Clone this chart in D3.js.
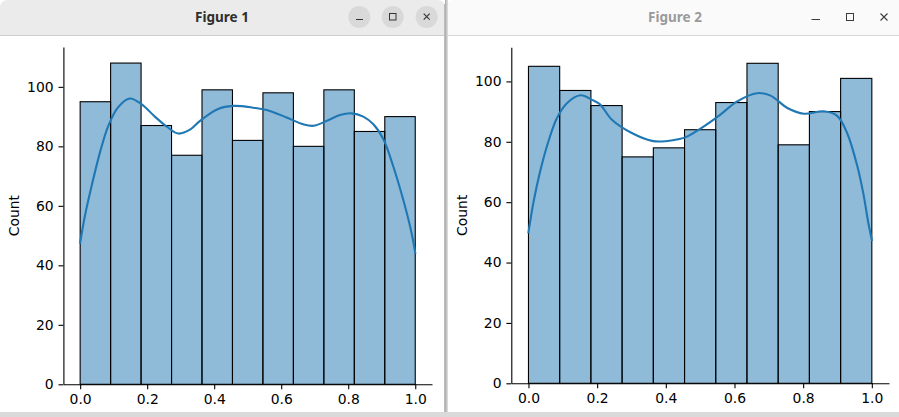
<!DOCTYPE html>
<html>
<head>
<meta charset="utf-8">
<script src="https://cdn.jsdelivr.net/npm/d3@7"></script>
<style>
html,body{margin:0;padding:0;background:#ffffff;overflow:hidden;}
svg{display:block;}
</style>
</head>
<body>
<div id="chart"></div>
<script>
// ---- data ----
const binCount = 11;
const counts1 = [95, 108, 87, 77, 99, 82, 98, 80, 99, 85, 90];
const counts2 = [105, 97, 92, 75, 78, 84, 93, 106, 79, 90, 101];
const xTicks = [0, 0.2, 0.4, 0.6, 0.8, 1.0];
const yTicks = [0, 20, 40, 60, 80, 100];
const kde1X = [0, 0.014, 0.034, 0.059, 0.084, 0.113, 0.148, 0.183, 0.223, 0.26, 0.293, 0.33, 0.357, 0.41, 0.457, 0.516, 0.566, 0.616, 0.666, 0.696, 0.735, 0.775, 0.81, 0.845, 0.875, 0.905, 0.934, 0.964, 0.989, 1.0];
const kde1Y = [47.6, 56.5, 66.6, 77.9, 86.9, 93.1, 96.1, 94.2, 90.0, 86.5, 84.3, 85.8, 88.5, 92.5, 93.6, 93.0, 91.9, 89.7, 87.4, 86.9, 88.5, 90.5, 91.1, 90.0, 87.4, 82.4, 73.4, 62.1, 50.9, 44.2];
const kde2X = [0, 0.015, 0.034, 0.058, 0.083, 0.112, 0.152, 0.185, 0.209, 0.243, 0.301, 0.36, 0.4, 0.44, 0.463, 0.511, 0.559, 0.608, 0.666, 0.705, 0.754, 0.802, 0.86, 0.899, 0.928, 0.958, 0.975, 0.99, 1.0];
const kde2Y = [50.0, 60.2, 70.2, 80.1, 87.9, 92.8, 95.4, 93.9, 92.3, 87.3, 82.9, 80.3, 80.2, 80.9, 81.8, 85.1, 89.0, 93.4, 96.1, 95.3, 91.2, 89.3, 90.1, 88.6, 82.9, 71.8, 63.0, 53.0, 47.5];
const windowTitles = ["Figure 1", "Figure 2"];
const yLabel = "Count";

// ---- canvas ----
const W = 899, H = 417;
const svg = d3.select("#chart").append("svg").attr("width", W).attr("height", H);

// window chrome
svg.append("rect").attr("x",0).attr("y",0).attr("width",W).attr("height",H).attr("fill","#ffffff");
// left window title bar
svg.append("path").attr("d","M0,35 L0,8 Q0,0 8,0 L437,0 Q445,0 445,8 L445,35 Z").attr("fill","#ebebeb");
// right window title bar
svg.append("path").attr("d","M447,35 L447,8 Q447,0 455,0 L899,0 L899,35 Z").attr("fill","#fafafa");
svg.append("line").attr("x1",0).attr("x2",445).attr("y1",35.5).attr("y2",35.5).attr("stroke","#cfcfcf");
svg.append("line").attr("x1",447).attr("x2",899).attr("y1",35.5).attr("y2",35.5).attr("stroke","#d8d8d8");
// border between windows
const grad = svg.append("defs").append("linearGradient").attr("id","shadow").attr("x1","0").attr("x2","1");
grad.append("stop").attr("offset","0").attr("stop-color","#a8a8a8");
grad.append("stop").attr("offset","1").attr("stop-color","#e2e2e2");
svg.append("rect").attr("x",445).attr("y",0).attr("width",3).attr("height",412).attr("fill","url(#shadow)");
svg.append("line").attr("x1",444.5).attr("x2",444.5).attr("y1",4).attr("y2",412).attr("stroke","#bdbdbd").attr("stroke-width",1);
// bottom strip
svg.append("rect").attr("x",0).attr("y",412).attr("width",W).attr("height",5).attr("fill","#dadada");

// titles
svg.append("text").attr("x",222).attr("y",22).attr("text-anchor","middle")
  .attr("font-family","Noto Sans, Open Sans, sans-serif").attr("font-weight","bold").attr("font-size","13.5px")
  .attr("fill","#2e2e2e").text(windowTitles[0]);
svg.append("text").attr("x",675).attr("y",22).attr("text-anchor","middle")
  .attr("font-family","Noto Sans, Open Sans, sans-serif").attr("font-weight","bold").attr("font-size","13.5px")
  .attr("fill","#9a9a9a").text(windowTitles[1]);

// buttons left (active)
[359.3, 392.7, 426.7].forEach(cx => {
  svg.append("circle").attr("cx",cx).attr("cy",17).attr("r",11).attr("fill","#d9d9d9");
});
const ic = "#333333";
svg.append("line").attr("x1",356).attr("x2",363).attr("y1",19.5).attr("y2",19.5).attr("stroke",ic).attr("stroke-width",1);
svg.append("rect").attr("x",389.5).attr("y",13.5).attr("width",6.5).attr("height",6.5).attr("fill","none").attr("stroke",ic).attr("stroke-width",1);
svg.append("path").attr("d","M423.7,13.7 L429.7,19.7 M429.7,13.7 L423.7,19.7").attr("stroke",ic).attr("stroke-width",1.1);
// buttons right (inactive)
const ic2 = "#3c3c3c";
svg.append("line").attr("x1",811.5).attr("x2",820).attr("y1",19.5).attr("y2",19.5).attr("stroke",ic2).attr("stroke-width",1);
svg.append("rect").attr("x",846.5).attr("y",13.5).attr("width",7).attr("height",7).attr("fill","none").attr("stroke",ic2).attr("stroke-width",1);
svg.append("path").attr("d","M880.5,13.5 L887.5,20.5 M887.5,13.5 L880.5,20.5").attr("stroke",ic2).attr("stroke-width",1.1);

// ---- chart drawing ----
const FONT = "DejaVu Sans, Liberation Sans, sans-serif";
function drawHist(cfg) {
  const {counts, kx, ky, left, right, bottom, top, labelX} = cfg;
  const ymax = d3.max(counts) * 1.05;
  const x = d3.scaleLinear().domain([-0.05, 1.05]).range([left, right]);
  const y = d3.scaleLinear().domain([0, ymax]).range([bottom, top]);
  const g = svg.append("g");
  const bw = 1 / binCount;
  const bins = counts.map((c, i) => ({x0: i * bw, x1: (i + 1) * bw, c}));
  g.selectAll("rect.bar").data(bins).join("rect").attr("class","bar")
    .attr("x", d => x(d.x0)).attr("width", d => x(d.x1) - x(d.x0))
    .attr("y", d => y(d.c)).attr("height", d => y(0) - y(d.c))
    .attr("fill", "rgba(31,119,180,0.5)").attr("stroke", "#000").attr("stroke-width", 1.1);
  const pts = kx.map((v, i) => [v, ky[i]]);
  g.append("path").datum(pts)
    .attr("d", d3.line().x(d => x(d[0])).y(d => y(d[1])).curve(d3.curveCatmullRom.alpha(0.5)))
    .attr("fill","none").attr("stroke","#1f77b4").attr("stroke-width",2.1).attr("stroke-linecap","square");
  // axes
  const xa = g.append("g").attr("transform", `translate(0,${bottom})`)
    .call(d3.axisBottom(x).tickValues(xTicks).tickFormat(d3.format(".1f")).tickSize(4.9).tickPadding(4.6).tickSizeOuter(0));
  const ya = g.append("g").attr("transform", `translate(${left},0)`)
    .call(d3.axisLeft(y).tickValues(yTicks).tickFormat(d3.format("d")).tickSize(4.9).tickPadding(4.9).tickSizeOuter(0));
  [xa, ya].forEach(a => {
    a.select(".domain").attr("stroke","#000").attr("stroke-width",1.1);
    a.selectAll(".tick line").attr("stroke","#000").attr("stroke-width",1.1);
    a.selectAll(".tick text").attr("font-family",FONT).attr("font-size","13.9px").attr("fill","#000");
  });
  g.append("text").attr("transform", `translate(${labelX},${(top + bottom) / 2}) rotate(-90)`)
    .attr("text-anchor","middle").attr("font-family",FONT).attr("font-size","13.9px").attr("fill","#000").text(yLabel);
}

drawHist({counts: counts1, kx: kde1X, ky: kde1Y, left: 63.4, right: 432, bottom: 384.3, top: 47, labelX: 19});
drawHist({counts: counts2, kx: kde2X, ky: kde2Y, left: 511.3, right: 889, bottom: 383.3, top: 47.3, labelX: 467});
</script>
</body>
</html>
